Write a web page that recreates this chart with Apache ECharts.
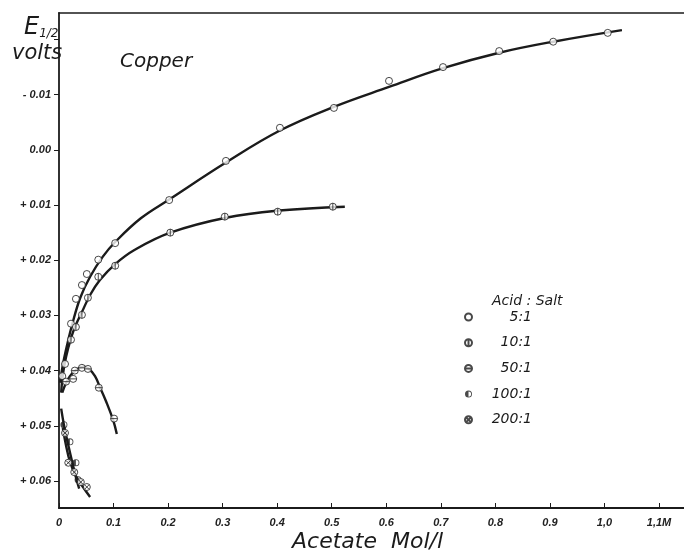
<!DOCTYPE html>
<html>
<head>
<meta charset="utf-8">
<script src="https://cdn.jsdelivr.net/npm/echarts@6/dist/echarts.min.js"></script>
<style>html,body{margin:0;padding:0;background:#fff}#c{width:684px;height:553px}</style>
</head>
<body>
<div id="c"></div>
<script>
// ---- data (x: acetate Mol/l, y: E1/2 volts) ----
const xTickValues = [0, 0.1, 0.2, 0.3, 0.4, 0.5, 0.6, 0.7, 0.8, 0.9, 1.0, 1.1];
const xTickLabels = ['0', '0.1', '0.2', '0.3', '0.4', '0.5', '0.6', '0.7', '0.8', '0.9', '1,0', '1,1M'];
const yTickValues = [-0.02, -0.01, 0, 0.01, 0.02, 0.03, 0.04, 0.05, 0.06];
const yLabelValues = [-0.01, 0, 0.01, 0.02, 0.03, 0.04, 0.05, 0.06];
const yTickLabels = ['- 0.01', '0.00', '+ 0.01', '+ 0.02', '+ 0.03', '+ 0.04', '+ 0.05', '+ 0.06'];

const seriesNames = ['5:1', '10:1', '50:1', '100:1', '200:1'];

const pts5 = [[0.006,0.0410],[0.011,0.0388],[0.022,0.0315],[0.031,0.0270],[0.042,0.0245],[0.051,0.0225],[0.072,0.0199],[0.103,0.0169],[0.202,0.0091],[0.306,0.0020],[0.405,-0.0040],[0.504,-0.0076],[0.605,-0.0125],[0.704,-0.0150],[0.807,-0.0179],[0.906,-0.0196],[1.006,-0.0212]];
const fit5 = [[0.002,0.0422],[0.007,0.0390],[0.015,0.0353],[0.024,0.0317],[0.039,0.0268],[0.057,0.0230],[0.080,0.0194],[0.103,0.0167],[0.150,0.0124],[0.202,0.0090],[0.306,0.0023],[0.405,-0.0035],[0.504,-0.0078],[0.605,-0.0114],[0.704,-0.0148],[0.807,-0.0176],[0.906,-0.0196],[1.032,-0.0217]];

const pts10 = [[0.022,0.0344],[0.031,0.0321],[0.042,0.0299],[0.053,0.0268],[0.072,0.0230],[0.103,0.0210],[0.204,0.0150],[0.304,0.0121],[0.401,0.0112],[0.502,0.0103]];
const fit10 = [[0.004,0.0440],[0.007,0.0408],[0.013,0.0375],[0.022,0.0341],[0.031,0.0317],[0.042,0.0294],[0.057,0.0263],[0.075,0.0236],[0.103,0.0207],[0.139,0.0181],[0.204,0.0150],[0.306,0.0123],[0.404,0.0110],[0.524,0.0103]];

const pts50 = [[0.013,0.0420],[0.026,0.0415],[0.029,0.0400],[0.042,0.0395],[0.053,0.0397],[0.073,0.0431],[0.101,0.0487]];
const fit50 = [[0.006,0.0440],[0.013,0.0422],[0.020,0.0410],[0.031,0.0399],[0.044,0.0393],[0.055,0.0397],[0.066,0.0410],[0.075,0.0430],[0.086,0.0455],[0.099,0.0489],[0.106,0.0515]];

const pts100 = [[0.009,0.0498],[0.020,0.0529],[0.031,0.0567],[0.035,0.0598]];
const fit100 = [[0.004,0.0469],[0.009,0.0498],[0.017,0.0535],[0.024,0.0565],[0.031,0.0593],[0.037,0.0614]];

const pts200 = [[0.011,0.0513],[0.017,0.0567],[0.028,0.0584],[0.040,0.0602],[0.051,0.0611]];
const fit200 = [[0.007,0.0504],[0.013,0.0536],[0.020,0.0565],[0.031,0.0591],[0.044,0.0611],[0.057,0.0629]];

// ---- symbols ----
const circ = 'M-10,0 A10,10 0 1,1 10,0 A10,10 0 1,1 -10,0 Z';
const symVert = 'path://' + circ + ' M0,-10 L0,10';
const symHorz = 'path://' + circ + ' M-10,0 L10,0';
const symHalf = 'path://M-10,0 A10,10 0 1,1 10,0 A10,10 0 1,1 -10,0 Z M-7.5,0 A7.5,7.5 0 1,0 7.5,0 A7.5,7.5 0 1,0 -7.5,0 Z M0,7.5 A7.5,7.5 0 0,1 0,-7.5 Z';
const symCross = 'path://' + circ + ' M-6,-6 L6,6 M-6,6 L6,-6';

const INK = '#1b1b1b';
const chart = echarts.init(document.getElementById('c'), null, {renderer: 'canvas'});

const lbl = {fontFamily: 'Liberation Sans', fontStyle: 'italic', fontWeight: 'bold', fontSize: 11, color: '#222'};
const ttl = {fontFamily: 'DejaVu Sans', fontStyle: 'italic', fontWeight: 'normal', color: INK};

function scatter(name, data, symbol, filled) {
  return {
    name: name, type: 'scatter', data: data, symbol: symbol, symbolSize: 7, z: 4,
    itemStyle: filled ? {color: INK, borderWidth: 0} : {color: '#fff', borderColor: INK, borderWidth: 1},
    emphasis: {disabled: true}
  };
}
function fit(name, data) {
  return {
    name: name, type: 'line', data: data, showSymbol: false, symbol: 'none', smooth: 0.4, z: 3,
    lineStyle: {color: INK, width: 2.4}, emphasis: {disabled: true}
  };
}

chart.setOption({
  backgroundColor: '#fff',
  animation: false,
  grid: {left: 59, right: 0, top: 13, bottom: 45, outerBoundsMode: 'none', containLabel: false},
  title: [
    {text: 'Copper', left: 115, top: 47, textStyle: Object.assign({fontSize: 20}, ttl)},
    {text: '{e|E}{s|1/2}', left: 19, top: 11, textStyle: {rich: {e: Object.assign({fontSize: 24}, ttl), s: Object.assign({fontSize: 12, padding: [12, 0, 0, 0]}, ttl)}}},
    {text: 'volts', left: 7, top: 38, textStyle: Object.assign({fontSize: 21}, ttl)},
    {text: 'Acetate  Mol/l', left: 287, top: 526, textStyle: Object.assign({fontSize: 22}, ttl)},
    {text: 'Acid : Salt', left: 487, top: 289, textStyle: Object.assign({fontSize: 14}, ttl)}
  ],
  legend: {
    data: seriesNames, orient: 'vertical', left: 464, top: 310, padding: 0,
    itemWidth: 7, itemHeight: 7, itemGap: 11.7, selectedMode: false,
    formatter: '{a|{name}}',
    textStyle: {rich: {a: Object.assign({width: 55, align: 'right', fontSize: 14, lineHeight: 16}, ttl)}}
  },
  xAxis: [{
    type: 'value', min: 0, max: 1.1458, position: 'bottom',
    axisLine: {show: true, onZero: false, lineStyle: {color: INK, width: 2}},
    axisTick: {show: true, inside: true, length: 5, customValues: xTickValues, lineStyle: {color: INK, width: 1}},
    axisLabel: Object.assign({show: true, margin: 9, customValues: xTickValues,
      formatter: v => xTickLabels[xTickValues.findIndex(t => Math.abs(t - v) < 1e-6)] || ''}, lbl),
    splitLine: {show: false}
  }, {
    type: 'value', min: 0, max: 1.1458, position: 'top',
    axisLine: {show: true, onZero: false, lineStyle: {color: INK, width: 1.6}},
    axisTick: {show: false}, axisLabel: {show: false}, splitLine: {show: false}
  }],
  yAxis: {
    type: 'value', inverse: true, min: -0.0248, max: 0.0649,
    axisLine: {show: true, onZero: false, lineStyle: {color: INK, width: 1.8}},
    axisTick: {show: true, inside: false, length: 5, customValues: yTickValues, lineStyle: {color: INK, width: 1}},
    axisLabel: Object.assign({show: true, margin: 8, customValues: yLabelValues,
      formatter: v => yTickLabels[yLabelValues.findIndex(t => Math.abs(t - v) < 1e-6)] || ''}, lbl),
    splitLine: {show: false}
  },
  series: [
    fit('fit 5:1', fit5), fit('fit 10:1', fit10), fit('fit 50:1', fit50), fit('fit 100:1', fit100), fit('fit 200:1', fit200),
    scatter('5:1', pts5, 'circle', false),
    scatter('10:1', pts10, symVert, false),
    scatter('50:1', pts50, symHorz, false),
    scatter('100:1', pts100, symHalf, true),
    scatter('200:1', pts200, symCross, false)
  ]
});
</script>
</body>
</html>
